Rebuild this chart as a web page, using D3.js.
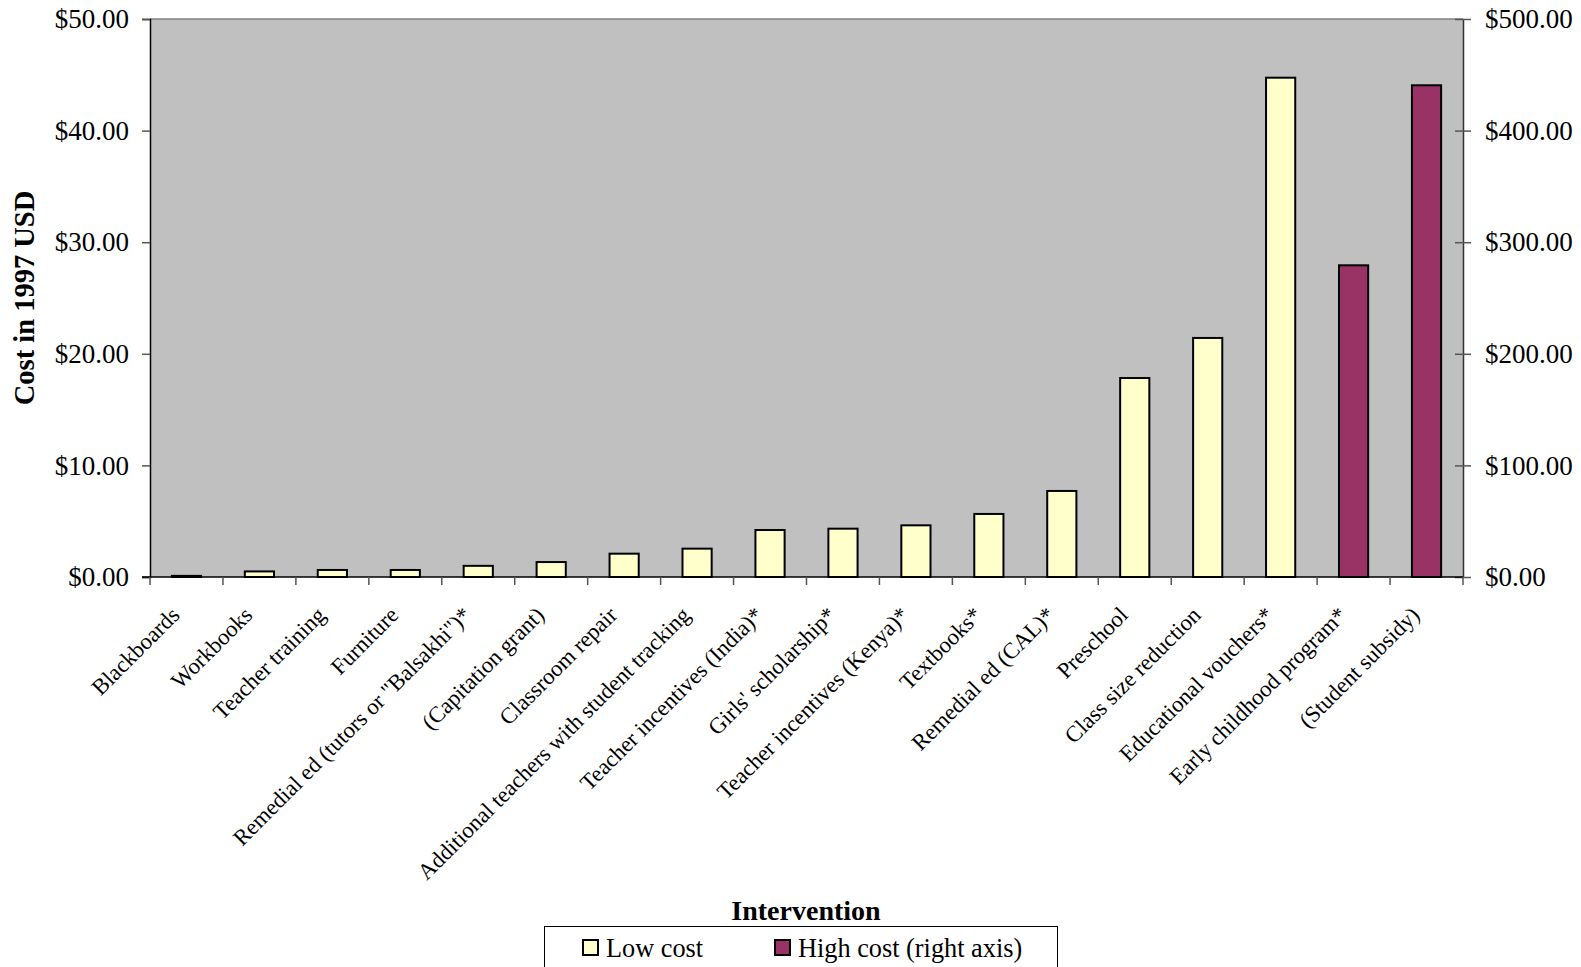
<!DOCTYPE html>
<html>
<head>
<meta charset="utf-8">
<script src="https://cdn.jsdelivr.net/npm/d3@7/dist/d3.min.js"></script>
<style>
  html, body { margin: 0; padding: 0; background: #fff; }
  svg text { font-family: "Liberation Serif", "Times New Roman", serif; fill: #000; }
</style>
</head>
<body>
<svg id="chart" width="1581" height="967"></svg>
<script>
// Per-pupil cost of education interventions (1997 USD)
const categories = [
  "Blackboards", "Workbooks", "Teacher training", "Furniture",
  "Remedial ed (tutors or \"Balsakhi\")*", "(Capitation grant)", "Classroom repair",
  "Additional teachers with student tracking", "Teacher incentives (India)*",
  "Girls' scholarship*", "Teacher incentives (Kenya)*", "Textbooks*",
  "Remedial ed (CAL)*", "Preschool", "Class size reduction",
  "Educational vouchers*", "Early childhood program*", "(Student subsidy)"
];
// Low cost series (left axis); null where the intervention is in the high cost series
const lowCost = [0.1, 0.5, 0.63, 0.63, 1.0, 1.34, 2.09, 2.54, 4.21, 4.33, 4.63, 5.65,
  7.71, 17.83, 21.42, 44.74, null, null];
// High cost series (right axis)
const highCost = [null, null, null, null, null, null, null, null, null, null, null, null,
  null, null, null, null, 279.3, 440.6];

const leftTicks = [0, 10, 20, 30, 40, 50];
const rightTicks = [0, 100, 200, 300, 400, 500];
const seriesNames = ["Low cost", "High cost (right axis)"];
const yTitle = "Cost in 1997 USD";
const xTitle = "Intervention";

const svg = d3.select("#chart");
const plot = { left: 150, right: 1463, top: 19, bottom: 577 };

const xCat = d3.scaleBand().domain(categories).range([plot.left, plot.right]);
const yL = d3.scaleLinear().domain([0, 50]).range([plot.bottom, plot.top]);
const yR = d3.scaleLinear().domain([0, 500]).range([plot.bottom, plot.top]);
const fmt = d3.format("$.2f");

// plot area
svg.append("rect")
  .attr("x", plot.left).attr("y", plot.top)
  .attr("width", plot.right - plot.left).attr("height", plot.bottom - plot.top)
  .attr("fill", "#C0C0C0");
svg.append("line")
  .attr("x1", plot.left).attr("x2", plot.right)
  .attr("y1", plot.top).attr("y2", plot.top)
  .attr("stroke", "#808080").attr("stroke-width", 1.5);

// bars
const barW = xCat.bandwidth() * 0.4;
svg.append("g").selectAll("rect")
  .data(categories.map((c, i) => ({ c, v: lowCost[i] })).filter(d => d.v != null))
  .join("rect")
  .attr("x", d => xCat(d.c) + (xCat.bandwidth() - barW) / 2)
  .attr("y", d => yL(d.v))
  .attr("width", barW)
  .attr("height", d => yL(0) - yL(d.v))
  .attr("fill", "#FFFFCC").attr("stroke", "#000").attr("stroke-width", 2);

svg.append("g").selectAll("rect")
  .data(categories.map((c, i) => ({ c, v: highCost[i] })).filter(d => d.v != null))
  .join("rect")
  .attr("x", d => xCat(d.c) + (xCat.bandwidth() - barW) / 2)
  .attr("y", d => yR(d.v))
  .attr("width", barW)
  .attr("height", d => yR(0) - yR(d.v))
  .attr("fill", "#993366").attr("stroke", "#000").attr("stroke-width", 2);

// left axis
const gL = svg.append("g").attr("transform", `translate(${plot.left},0)`)
  .call(d3.axisLeft(yL).tickValues(leftTicks).tickFormat(fmt).tickSize(8).tickPadding(13));
gL.select(".domain").attr("stroke", "#000").attr("stroke-width", 1.5);
gL.selectAll(".tick line").attr("stroke", "#555").attr("stroke-width", 1.5);
gL.selectAll(".tick text").attr("font-size", 27).attr("font-family", "Liberation Serif");

// right axis
const gR = svg.append("g").attr("transform", `translate(${plot.right},0)`)
  .call(d3.axisRight(yR).tickValues(rightTicks).tickFormat(fmt).tickSizeInner(8).tickSizeOuter(0).tickPadding(14));
gR.select(".domain").attr("stroke", "#333").attr("stroke-width", 1.5);
gR.selectAll(".tick line").attr("x1", -8).attr("stroke", "#555").attr("stroke-width", 1.5);
gR.selectAll(".tick text").attr("font-size", 27).attr("font-family", "Liberation Serif");

// bottom axis: ticks on category boundaries
const gB = svg.append("g").attr("transform", `translate(0,${plot.bottom})`);
gB.append("line").attr("x1", plot.left - 8).attr("x2", plot.right)
  .attr("stroke", "#000").attr("stroke-width", 1.5);
const bounds = categories.map(c => xCat(c)).concat([xCat(categories[categories.length - 1]) + xCat.bandwidth()]);
gB.selectAll("line.tk").data(bounds).join("line").attr("class", "tk")
  .attr("x1", d => d).attr("x2", d => d).attr("y1", 0).attr("y2", 8)
  .attr("stroke", "#555").attr("stroke-width", 1.5);

// category labels
svg.append("g").selectAll("text")
  .data(categories)
  .join("text")
  .attr("transform", d => `translate(${xCat(d) + xCat.bandwidth() / 2 - 17},${plot.bottom + 28}) rotate(-45)`)
  .attr("text-anchor", "end")
  .attr("dy", "0.71em")
  .attr("font-size", 22.7)
  .text(d => d);

// axis titles
svg.append("text")
  .attr("transform", "translate(34,298) rotate(-90)")
  .attr("text-anchor", "middle")
  .attr("font-size", 28.5).attr("font-weight", "bold")
  .text(yTitle);
svg.append("text")
  .attr("x", 806).attr("y", 920)
  .attr("text-anchor", "middle")
  .attr("font-size", 28).attr("font-weight", "bold")
  .text(xTitle);

// legend
const lg = svg.append("g");
lg.append("rect").attr("x", 544.5).attr("y", 926.5).attr("width", 513).attr("height", 60)
  .attr("fill", "#fff").attr("stroke", "#000").attr("stroke-width", 1);
const items = [
  { name: seriesNames[0], fill: "#FFFFCC", sx: 583, tx: 606 },
  { name: seriesNames[1], fill: "#993366", sx: 775, tx: 798 }
];
items.forEach(it => {
  lg.append("rect").attr("x", it.sx).attr("y", 940).attr("width", 15).attr("height", 15)
    .attr("fill", it.fill).attr("stroke", "#000").attr("stroke-width", 2);
  lg.append("text").attr("x", it.tx).attr("y", 957).attr("font-size", 26.3).text(it.name);
});
</script>
</body>
</html>
